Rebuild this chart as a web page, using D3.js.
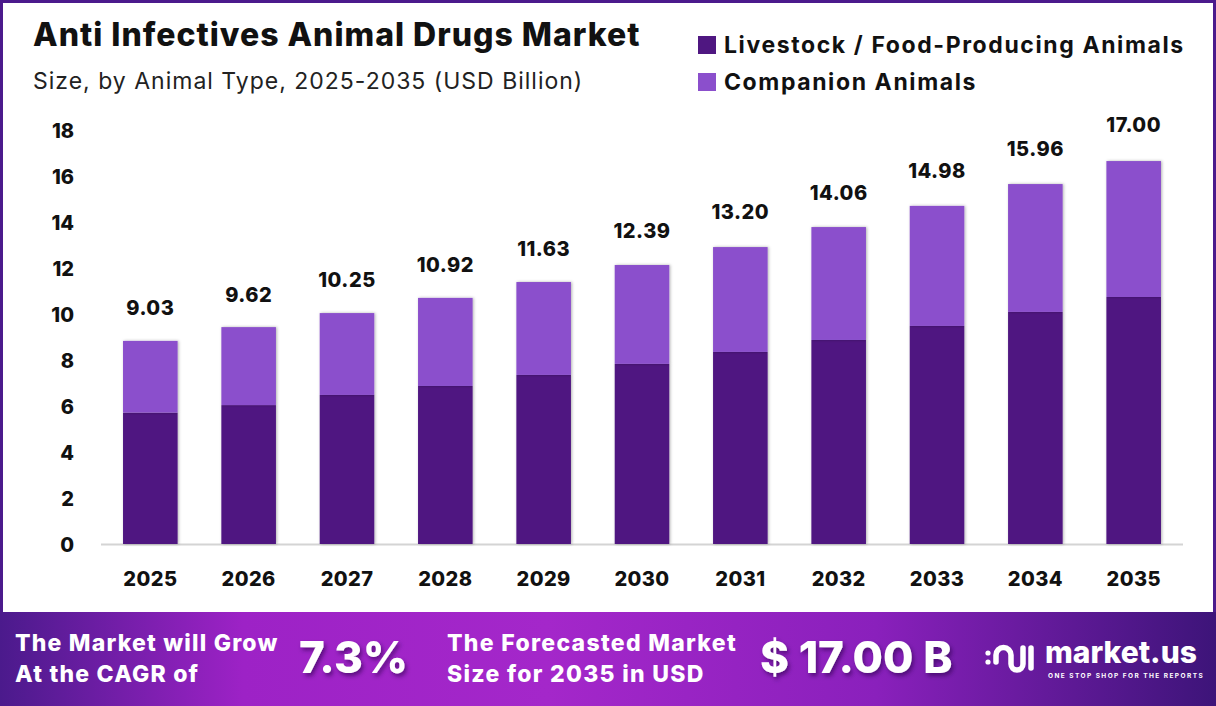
<!DOCTYPE html>
<html lang="en">
<head>
<meta charset="utf-8">
<style type="text/css">
    body { margin: 0; background: #fff; }
    svg text { font-family: "Inter", "Open Sans", sans-serif; }
    .tick text { font-weight: 800; font-size: 20px; fill: #111; }
</style>
</head>
<body>
<svg width="1216" height="706"></svg>
<script src="https://d3js.org/d3.v7.min.js"></script>
<script type="text/javascript">

    // chart data
    var years = ["2025", "2026", "2027", "2028", "2029", "2030", "2031", "2032", "2033", "2034", "2035"];
    var livestock = [5.71, 6.04, 6.48, 6.87, 7.35, 7.83, 8.35, 8.87, 9.48, 10.09, 10.74];
    var companion = [3.12, 3.39, 3.56, 3.83, 4.04, 4.30, 4.56, 4.91, 5.22, 5.56, 5.91];
    var totals = [9.03, 9.62, 10.25, 10.92, 11.63, 12.39, 13.20, 14.06, 14.98, 15.96, 17.00];
    var yTicks = [0, 2, 4, 6, 8, 10, 12, 14, 16, 18];
    var seriesNames = ["Livestock / Food-Producing Animals", "Companion Animals"];
    var seriesColors = ["#4f1781", "#8b4fcc"];

    var svg = d3.select("svg"),
        width = +svg.attr("width"),
        height = +svg.attr("height");

    var defs = svg.append("defs");

    // soft shadow on the bars
    var sh = defs.append("filter").attr("id", "barShadow")
        .attr("x", "-20%").attr("y", "-5%").attr("width", "140%").attr("height", "110%");
    sh.append("feDropShadow").attr("dx", 1).attr("dy", 0).attr("stdDeviation", 1.6)
        .attr("flood-color", "#000").attr("flood-opacity", 0.3);

    var tsh = defs.append("filter").attr("id", "textShadow")
        .attr("x", "-20%").attr("y", "-30%").attr("width", "140%").attr("height", "160%");
    tsh.append("feDropShadow").attr("dx", 2).attr("dy", 3).attr("stdDeviation", 2)
        .attr("flood-color", "#2a0050").attr("flood-opacity", 0.6);

    var grad = defs.append("linearGradient").attr("id", "footGrad")
        .attr("x1", "0%").attr("x2", "100%").attr("y1", "0%").attr("y2", "0%");
    [["0%", "#4b1a8c"], ["20%", "#9d22c6"], ["45%", "#a427ca"], ["72%", "#8a20bc"], ["100%", "#3d1479"]]
        .forEach(function (s) { grad.append("stop").attr("offset", s[0]).attr("stop-color", s[1]); });

    // outer frame
    svg.append("rect")
        .attr("x", 1.5).attr("y", 1.5).attr("width", width - 3).attr("height", height - 3)
        .attr("fill", "#fff").attr("stroke", "#4b1a8c").attr("stroke-width", 3);

    // title block
    svg.append("text").attr("x", 33).attr("y", 46)
        .style("font-size", "32px").style("font-weight", 800).style("letter-spacing", "1px")
        .attr("fill", "#111")
        .text("Anti Infectives Animal Drugs Market");
    svg.append("text").attr("x", 33).attr("y", 89)
        .style("font-size", "23px").style("font-weight", 400).style("letter-spacing", "1px")
        .attr("fill", "#222")
        .text("Size, by Animal Type, 2025-2035 (USD Billion)");

    // legend
    var legend = svg.append("g").attr("transform", "translate(698,36)");
    seriesNames.forEach(function (name, i) {
        var row = legend.append("g").attr("transform", "translate(0," + (i * 37) + ")");
        row.append("rect").attr("width", 18).attr("height", 18).attr("fill", seriesColors[i]);
        row.append("text").attr("x", 26).attr("y", 17)
            .style("font-size", "23px").style("font-weight", 700).style("letter-spacing", "1.6px")
            .attr("fill", "#111")
            .text(name);
    });

    // scales
    var x = d3.scaleBand().domain(years).range([101, 1183])
        .paddingInner(0.445).paddingOuter(0.224);
    var y = d3.scaleLinear().domain([0, 18]).range([544, 130]);

    // y axis, labels only
    var yAxis = svg.append("g").attr("transform", "translate(74,0)")
        .call(d3.axisLeft(y).tickValues(yTicks).tickSize(0).tickPadding(0));
    yAxis.select(".domain").remove();
    yAxis.selectAll("text").attr("dy", "0.35em");

    // baseline
    svg.append("line").attr("x1", 101).attr("x2", 1183)
        .attr("y1", y(0) + 0.5).attr("y2", y(0) + 0.5)
        .attr("stroke", "#d4d4d4").attr("stroke-width", 2);

    // stacked bars
    var rows = years.map(function (yr, i) {
        return { year: yr, livestock: livestock[i], companion: companion[i] };
    });
    var stack = d3.stack().keys(["livestock", "companion"])(rows);

    svg.append("g").selectAll("g")
        .data(stack)
        .join("g")
        .attr("fill", function (d, i) { return seriesColors[i]; })
        .selectAll("rect")
        .data(function (d) { return d; })
        .join("rect")
        .attr("x", function (d) { return x(d.data.year); })
        .attr("y", function (d) { return y(d[1]); })
        .attr("width", x.bandwidth())
        .attr("height", function (d) { return y(d[0]) - y(d[1]); })
        .attr("filter", "url(#barShadow)");

    // total labels
    svg.append("g").selectAll("text")
        .data(totals)
        .join("text")
        .attr("x", function (d, i) { return x(years[i]) + x.bandwidth() / 2; })
        .attr("y", function (d) { return y(d) - 28; })
        .attr("dy", "0.35em")
        .attr("text-anchor", "middle")
        .style("font-size", "20px").style("font-weight", 800).style("letter-spacing", "0.5px")
        .attr("fill", "#111")
        .text(function (d) { return d.toFixed(2); });

    // x axis labels
    var xAxis = svg.append("g").attr("transform", "translate(0," + 579 + ")")
        .call(d3.axisBottom(x).tickSize(0).tickPadding(0));
    xAxis.select(".domain").remove();
    xAxis.selectAll("text").attr("dy", "0.35em").style("letter-spacing", "0.4px");

    // footer band
    var foot = svg.append("g");
    foot.append("rect").attr("x", 0).attr("y", 612).attr("width", width).attr("height", height - 612)
        .attr("fill", "url(#footGrad)");

    function footText(xp, yp, size, txt, shadow, ls) {
        var t = foot.append("text").attr("x", xp).attr("y", yp)
            .style("font-size", size + "px").style("font-weight", 800)
            .style("letter-spacing", (ls || 0) + "px")
            .attr("fill", "#fff").text(txt);
        if (shadow) t.attr("filter", "url(#textShadow)");
        return t;
    }
    footText(15, 651, 23, "The Market will Grow", false, 1.2);
    footText(15, 682, 23, "At the CAGR of", false, 1.2);
    footText(299, 673, 44, "7.3%", true);
    footText(447, 651, 23, "The Forecasted Market", false, 1.3);
    footText(447, 682, 23, "Size for 2035 in USD", false, 1.3);
    footText(760, 673, 44, "$ 17.00 B", true);

    // market.us logo
    var logo = foot.append("g").attr("transform", "translate(985,640)")
        .attr("fill", "none").attr("stroke", "#fff").attr("stroke-width", 5.5)
        .attr("stroke-linecap", "round").attr("stroke-linejoin", "round");
    logo.append("circle").attr("cx", 3).attr("cy", 13).attr("r", 2.6).attr("fill", "#fff").attr("stroke", "none");
    logo.append("circle").attr("cx", 3).attr("cy", 22).attr("r", 2.6).attr("fill", "#fff").attr("stroke", "none");
    logo.append("path").attr("d", "M11 22 L11 15 A7.5 7.5 0 0 1 26 15 L26 24 A6 6 0 0 0 38 24 L38 8");
    logo.append("path").attr("d", "M46 8 L46 28");
    foot.append("text").attr("x", 1045).attr("y", 663)
        .style("font-size", "30px").style("font-weight", 800).attr("fill", "#fff")
        .text("market.us");
    foot.append("text").attr("x", 1048).attr("y", 678)
        .style("font-size", "6.5px").style("font-weight", 700).style("letter-spacing", "1.45px")
        .attr("fill", "#fff")
        .text("ONE STOP SHOP FOR THE REPORTS");

</script>
</body>
</html>
